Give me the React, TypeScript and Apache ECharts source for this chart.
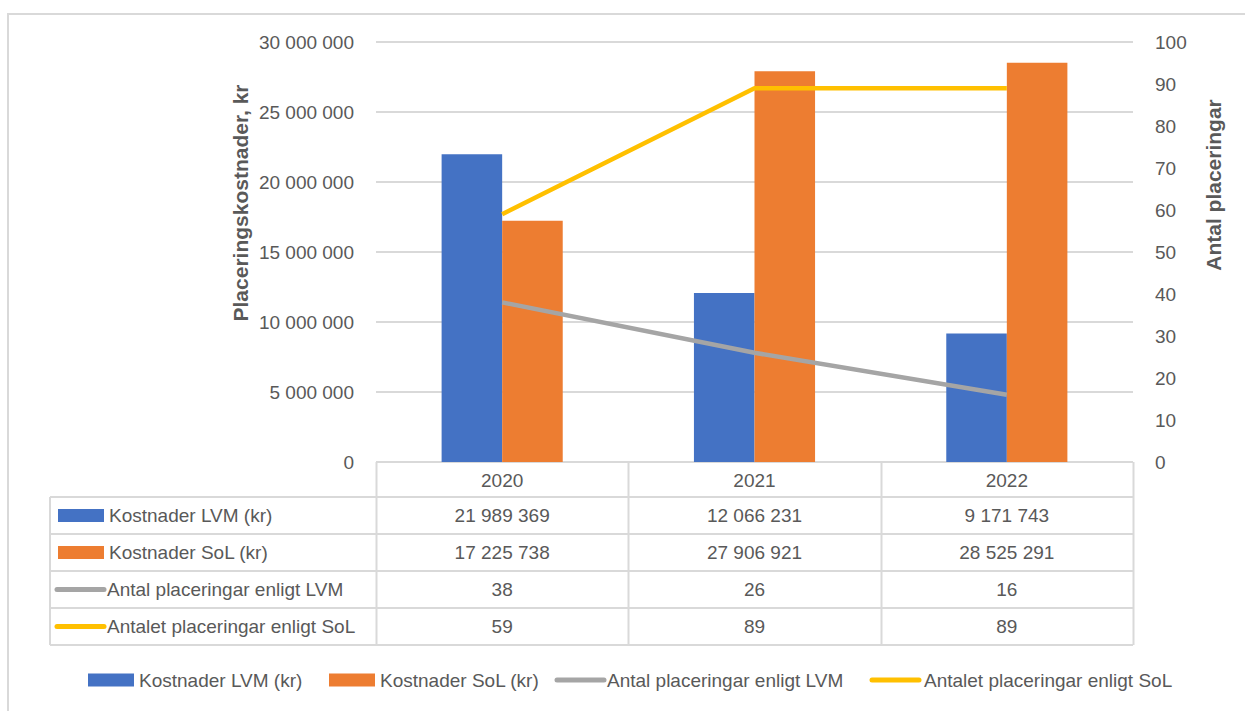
import React, { useEffect, useRef } from "react";
import * as echarts from "echarts";

const years = ["2020", "2021", "2022"];
const kostnaderLVM = [21989369, 12066231, 9171743];
const kostnaderSoL = [17225738, 27906921, 28525291];
const antalLVM = [38, 26, 16];
const antalSoL = [59, 89, 89];

const seriesNames = [
  "Kostnader LVM (kr)",
  "Kostnader SoL (kr)",
  "Antal placeringar enligt LVM",
  "Antalet placeringar enligt SoL",
];
const colors = ["#4472C4", "#ED7D31", "#A5A5A5", "#FFC000"];

const fmt = (n: number) => String(n).replace(/\B(?=(\d{3})+(?!\d))/g, " ");

const FONT = "Liberation Sans";
const TXT = "#595959";
const LINE = "#D9D9D9";
const FS = 19;

export default function App() {
  const ref = useRef<HTMLDivElement>(null);
  useEffect(() => {
    if (!ref.current) return;
    const chart = echarts.init(ref.current, undefined, { renderer: "svg" });

    const gl = 376, gr = 1133, gTop = 42, gBot = 462;
    const colW = (gr - gl) / years.length;
    const tableLeft = 50;
    const rowH = 37;
    const headerBottom = 497;
    const tableBottom = headerBottom + 4 * rowH;
    const rowValues = [kostnaderLVM, kostnaderSoL, antalLVM, antalSoL];

    const g: any[] = [];
    g.push({ type: "rect", shape: { x: 8, y: 14, width: 1400, height: 900 }, style: { fill: "none", stroke: LINE, lineWidth: 2 }, silent: true });
    for (let i = 0; i <= years.length; i++) {
      const x = Math.round(gl + i * colW) + 0.5;
      g.push({ type: "line", shape: { x1: x, y1: gBot, x2: x, y2: tableBottom }, style: { stroke: LINE, lineWidth: 2 } });
    }
    g.push({ type: "line", shape: { x1: tableLeft, y1: headerBottom, x2: tableLeft, y2: tableBottom }, style: { stroke: LINE, lineWidth: 2 } });
    for (let r = 0; r <= 4; r++) {
      const y = headerBottom + r * rowH;
      g.push({ type: "line", shape: { x1: tableLeft, y1: y, x2: gr, y2: y }, style: { stroke: LINE, lineWidth: 2 } });
    }
    const key = (r: number, x: number, cy: number) => {
      if (r < 2) {
        g.push({ type: "rect", shape: { x, y: cy - 6.5, width: 46, height: 13 }, style: { fill: colors[r] } });
      } else {
        g.push({ type: "line", shape: { x1: x, y1: cy, x2: x + 47, y2: cy }, style: { stroke: colors[r], lineWidth: 5, lineCap: "round" } });
      }
    };
    rowValues.forEach((vals, r) => {
      const cy = headerBottom + r * rowH + rowH / 2;
      key(r, r < 2 ? 58 : 57, cy);
      g.push({ type: "text", x: r < 2 ? 109 : 107, y: cy, style: { text: seriesNames[r], font: `${FS}px '${FONT}'`, fill: TXT, textVerticalAlign: "middle", textAlign: "left" } });
      vals.forEach((v, c) => {
        g.push({ type: "text", x: gl + (c + 0.5) * colW, y: cy, style: { text: fmt(v), font: `${FS}px '${FONT}'`, fill: TXT, textVerticalAlign: "middle", textAlign: "center" } });
      });
    });
    // legend
    const legendY = 680;
    const legendKeyX = [88, 329, 557, 872];
    const legendTextX = [139, 380, 607, 924];
    seriesNames.forEach((name, r) => {
      key(r, legendKeyX[r], legendY);
      g.push({ type: "text", x: legendTextX[r], y: legendY, style: { text: name, font: `${FS}px '${FONT}'`, fill: TXT, textVerticalAlign: "middle", textAlign: "left" } });
    });
    // axis titles
    g.push({ type: "text", x: 240, y: 203, rotation: Math.PI / 2, style: { text: "Placeringskostnader, kr", font: `bold 21px '${FONT}'`, fill: TXT, textAlign: "center", textVerticalAlign: "middle" } });
    g.push({ type: "text", x: 1213, y: 185, rotation: Math.PI / 2, style: { text: "Antal placeringar", font: `bold 21px '${FONT}'`, fill: TXT, textAlign: "center", textVerticalAlign: "middle" } });

    chart.setOption({
      animation: false,
      textStyle: { fontFamily: FONT },
      grid: { left: gl, right: 1245 - gr, top: gTop, bottom: 711 - gBot, containLabel: false },
      xAxis: {
        type: "category",
        data: years,
        axisLine: { show: false },
        axisTick: { show: false },
        axisLabel: { color: TXT, fontSize: FS, margin: 9 },
      },
      yAxis: [
        {
          type: "value",
          min: 0,
          max: 30000000,
          interval: 5000000,
          axisLabel: { color: TXT, fontSize: FS, margin: 22, formatter: (v: number) => fmt(v) },
          splitLine: { lineStyle: { color: LINE, width: 2 } },
          axisLine: { show: false },
          axisTick: { show: false },
        },
        {
          type: "value",
          min: 0,
          max: 100,
          interval: 10,
          axisLabel: { color: TXT, fontSize: FS, margin: 22 },
          splitLine: { show: false },
          axisLine: { show: false },
          axisTick: { show: false },
        },
      ],
      series: [
        { name: seriesNames[0], type: "bar", data: kostnaderLVM, itemStyle: { color: colors[0] }, barGap: "0%", barCategoryGap: "52%" },
        { name: seriesNames[1], type: "bar", data: kostnaderSoL, itemStyle: { color: colors[1] } },
        { name: seriesNames[2], type: "line", yAxisIndex: 1, data: antalLVM, showSymbol: false, symbol: "none", lineStyle: { color: colors[2], width: 4.5 } },
        { name: seriesNames[3], type: "line", yAxisIndex: 1, data: antalSoL, showSymbol: false, symbol: "none", lineStyle: { color: colors[3], width: 4.5 } },
      ],
      graphic: g,
    });
    return () => chart.dispose();
  }, []);
  return <div ref={ref} style={{ width: 1245, height: 711, position: "absolute", left: 0, top: 0 }} />;
}
